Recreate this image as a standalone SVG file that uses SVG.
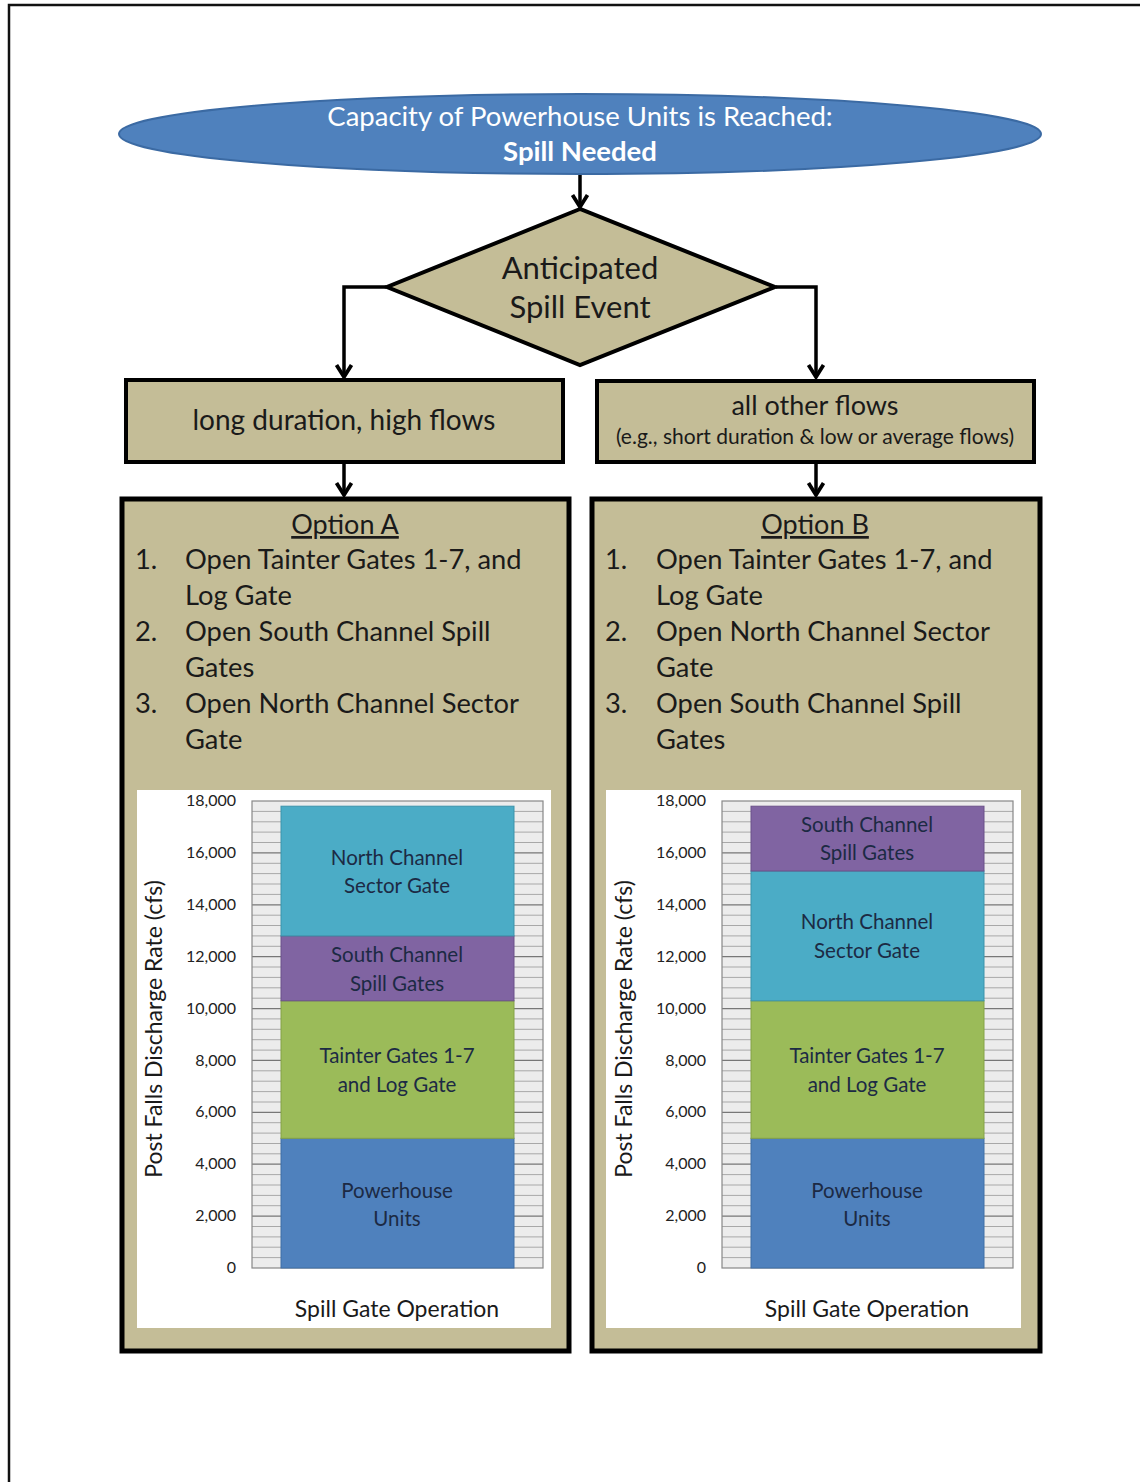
<svg xmlns="http://www.w3.org/2000/svg" xmlns:xlink="http://www.w3.org/1999/xlink" width="1140" height="1482" viewBox="0 0 1140 1482">
<style>
.t{font-family:Lato,"Open Sans","Liberation Sans",sans-serif;fill:#1a1a1a}
.mid{text-anchor:middle}
.box{fill:#c4bd97;stroke:#000}
.seg{font-family:Lato,"Open Sans","Liberation Sans",sans-serif;font-size:20.5px;fill:#1c2a44;text-anchor:middle}
.tick{font-family:Lato,"Open Sans","Liberation Sans",sans-serif;font-size:16px;fill:#222;text-anchor:end}
.conn{fill:none;stroke:#000;stroke-width:3.5}
</style>
<defs>
<marker id="arr" markerUnits="userSpaceOnUse" markerWidth="20" markerHeight="20" viewBox="0 0 20 20" refX="16" refY="10" orient="auto">
<path d="M4,2.5 L16,10 L4,17.5" fill="none" stroke="#000" stroke-width="3.8"/>
</marker>
<g id="grid">
<rect x="252" y="801" width="291" height="467" fill="#ececec"/>
<path d="M252 1257.6H543M252 1247.2H543M252 1236.9H543M252 1226.5H543M252 1205.7H543M252 1195.4H543M252 1185H543M252 1174.6H543M252 1153.8H543M252 1143.5H543M252 1133.1H543M252 1122.7H543M252 1102H543M252 1091.6H543M252 1081.2H543M252 1070.8H543M252 1050.1H543M252 1039.7H543M252 1029.3H543M252 1018.9H543M252 998.2H543M252 987.8H543M252 977.4H543M252 967H543M252 946.3H543M252 935.9H543M252 925.5H543M252 915.2H543M252 894.4H543M252 884H543M252 873.6H543M252 863.3H543M252 842.5H543M252 832.1H543M252 821.8H543M252 811.4H543" stroke="#a8a8a8" stroke-width="1"/>
<path d="M252 1216.1H543M252 1164.2H543M252 1112.3H543M252 1060.4H543M252 1008.6H543M252 956.7H543M252 904.8H543M252 852.9H543" stroke="#777" stroke-width="1.2"/>
<rect x="252" y="801" width="291" height="467" fill="none" stroke="#888" stroke-width="1.2"/>
<g class="tick">
<text x="236" y="806">18,000</text>
<text x="236" y="858">16,000</text>
<text x="236" y="910">14,000</text>
<text x="236" y="962">12,000</text>
<text x="236" y="1014">10,000</text>
<text x="236" y="1066">8,000</text>
<text x="236" y="1117">6,000</text>
<text x="236" y="1169">4,000</text>
<text x="236" y="1221">2,000</text>
<text x="236" y="1273">0</text>
</g>
<text class="t mid" x="397" y="1317" font-size="23">Spill Gate Operation</text>
<text class="t mid" transform="translate(162,1029) rotate(-90)" font-size="23">Post Falls Discharge Rate (cfs)</text>
</g>
</defs>

<rect width="1140" height="1482" fill="#fff"/>
<path d="M9 1482V5H1140" fill="none" stroke="#111" stroke-width="2.5"/>

<g id="connectors">
<path class="conn" d="M580 174V207" marker-end="url(#arr)"/>
<path class="conn" d="M386 287H344V377" marker-end="url(#arr)"/>
<path class="conn" d="M776 287H816V377" marker-end="url(#arr)"/>
<path class="conn" d="M344 462V495" marker-end="url(#arr)"/>
<path class="conn" d="M816 462V495" marker-end="url(#arr)"/>
</g>

<g id="start">
<ellipse cx="580" cy="134" rx="461" ry="40" fill="#4f81bd" stroke="#3b6aa3" stroke-width="2"/>
<text class="mid" x="580" y="126" font-family="Lato,'Open Sans','Liberation Sans',sans-serif" font-size="27.5" fill="#fff">Capacity of Powerhouse Units is Reached:</text>
<text class="mid" x="580" y="161" font-family="Lato,'Open Sans','Liberation Sans',sans-serif" font-size="27.5" font-weight="bold" fill="#fff">Spill Needed</text>
</g>

<g id="decision">
<polygon class="box" points="580,209 387,287 580,365 775,287" stroke-width="4" stroke-linejoin="miter"/>
<text class="t mid" x="580" y="279" font-size="31">Anticipated</text>
<text class="t mid" x="580" y="318" font-size="31">Spill Event</text>
</g>

<g id="long-duration">
<rect class="box" x="126" y="380" width="437" height="82" stroke-width="4"/>
<text class="t mid" x="344" y="430" font-size="28">long duration, high flows</text>
</g>

<g id="other-flows">
<rect class="box" x="597" y="381" width="437" height="81" stroke-width="4"/>
<text class="t mid" x="815" y="415" font-size="27">all other flows</text>
<text class="t mid" x="815" y="444" font-size="21">(e.g., short duration &amp; low or average flows)</text>
</g>

<g id="option-a">
<rect class="box" x="122" y="499" width="447" height="852" stroke-width="5"/>
<text class="t mid" x="345" y="534" font-size="27" text-decoration="underline">Option A</text>
<g class="t" font-size="27.3">
<text x="135" y="569">1.</text><text x="185" y="569">Open Tainter Gates 1-7, and</text>
<text x="185" y="605">Log Gate</text>
<text x="135" y="641">2.</text><text x="185" y="641">Open South Channel Spill</text>
<text x="185" y="677">Gates</text>
<text x="135" y="713">3.</text><text x="185" y="713">Open North Channel Sector</text>
<text x="185" y="749">Gate</text>
</g>
<rect x="137" y="790" width="414" height="538" fill="#fff"/>
<use xlink:href="#grid" href="#grid"/>
<rect x="281" y="1138.3" width="233" height="129.7" fill="#4f81bd" stroke="#3f6ea6" stroke-width="1"/>
<rect x="281" y="1000.8" width="233" height="137.5" fill="#9bbb59" stroke="#84a246" stroke-width="1"/>
<rect x="281" y="935.9" width="233" height="64.9" fill="#8064a2" stroke="#6a5089" stroke-width="1"/>
<rect x="281" y="806.2" width="233" height="129.7" fill="#4bacc6" stroke="#3a93ab" stroke-width="1"/>
<text class="seg" x="397" y="865">North Channel</text>
<text class="seg" x="397" y="893">Sector Gate</text>
<text class="seg" x="397" y="962">South Channel</text>
<text class="seg" x="397" y="991">Spill Gates</text>
<text class="seg" x="397" y="1063">Tainter Gates 1-7</text>
<text class="seg" x="397" y="1092">and Log Gate</text>
<text class="seg" x="397" y="1198">Powerhouse</text>
<text class="seg" x="397" y="1226">Units</text>
</g>

<g id="option-b">
<rect class="box" x="592" y="499" width="448" height="852" stroke-width="5"/>
<text class="t mid" x="815" y="534" font-size="27" text-decoration="underline">Option B</text>
<g class="t" font-size="27.3">
<text x="605" y="569">1.</text><text x="656" y="569">Open Tainter Gates 1-7, and</text>
<text x="656" y="605">Log Gate</text>
<text x="605" y="641">2.</text><text x="656" y="641">Open North Channel Sector</text>
<text x="656" y="677">Gate</text>
<text x="605" y="713">3.</text><text x="656" y="713">Open South Channel Spill</text>
<text x="656" y="749">Gates</text>
</g>
<rect x="606" y="790" width="415" height="538" fill="#fff"/>
<use xlink:href="#grid" href="#grid" transform="translate(470,0)"/>
<rect x="751" y="1138.3" width="233" height="129.7" fill="#4f81bd" stroke="#3f6ea6" stroke-width="1"/>
<rect x="751" y="1000.8" width="233" height="137.5" fill="#9bbb59" stroke="#84a246" stroke-width="1"/>
<rect x="751" y="871" width="233" height="129.8" fill="#4bacc6" stroke="#3a93ab" stroke-width="1"/>
<rect x="751" y="806.2" width="233" height="64.8" fill="#8064a2" stroke="#6a5089" stroke-width="1"/>
<text class="seg" x="867" y="832">South Channel</text>
<text class="seg" x="867" y="860">Spill Gates</text>
<text class="seg" x="867" y="929">North Channel</text>
<text class="seg" x="867" y="958">Sector Gate</text>
<text class="seg" x="867" y="1063">Tainter Gates 1-7</text>
<text class="seg" x="867" y="1092">and Log Gate</text>
<text class="seg" x="867" y="1198">Powerhouse</text>
<text class="seg" x="867" y="1226">Units</text>
</g>
</svg>
